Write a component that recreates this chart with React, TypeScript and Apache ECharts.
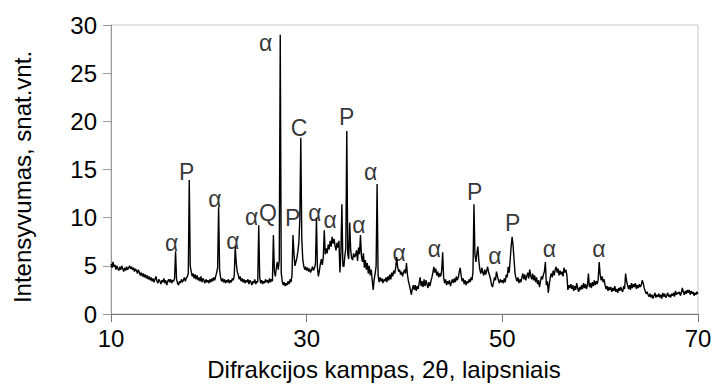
import React, { useEffect, useRef } from 'react';
import * as echarts from 'echarts';

// 2θ grid: 10.0 … 70.0 in 0.1° steps, one row of 10 readings per degree
const START_ANGLE = 10;
const STEP = 0.1;
const intensity = [
  5.2, 4.8, 5.4, 4.9, 5.1, 4.6, 5.0, 4.7, 4.5, 4.9, // 10
  4.6, 5.0, 4.7, 4.4, 4.8, 4.5, 4.9, 4.6, 4.8, 5.0, // 11
  4.7, 4.9, 4.6, 4.8, 4.4, 4.7, 4.5, 4.2, 4.6, 4.3, // 12
  4.0, 4.3, 3.9, 4.2, 3.8, 4.1, 3.7, 4.0, 3.6, 3.9, // 13
  3.5, 3.8, 3.4, 3.7, 3.3, 3.6, 3.9, 3.4, 3.2, 3.6, // 14
  3.4, 3.1, 3.5, 3.3, 3.7, 3.2, 3.5, 3.0, 3.4, 3.6, // 15
  3.3, 3.6, 3.2, 3.5, 3.4, 3.7, 6.5, 3.6, 3.2, 3.0, // 16
  3.4, 3.2, 3.6, 3.3, 3.5, 3.8, 3.4, 3.7, 3.9, 4.2, // 17
  13.9, 5.0, 4.4, 3.9, 4.2, 3.7, 4.1, 3.6, 4.0, 3.5, // 18
  3.8, 3.4, 3.9, 3.3, 3.7, 3.5, 3.2, 3.6, 3.3, 3.5, // 19
  3.2, 3.6, 3.3, 3.7, 3.4, 3.8, 3.5, 3.9, 4.3, 4.8, // 20
  11.1, 4.6, 3.8, 3.4, 3.7, 3.3, 3.6, 3.2, 3.5, 3.3, // 21
  3.6, 3.2, 3.5, 3.3, 3.7, 3.5, 4.0, 7.0, 5.3, 4.4, // 22
  4.1, 3.6, 3.9, 3.4, 3.7, 3.3, 3.6, 3.2, 3.5, 3.3, // 23
  3.6, 3.1, 3.5, 3.3, 3.0, 3.4, 3.2, 3.6, 3.1, 3.4, // 24
  3.3, 9.2, 3.8, 3.2, 3.5, 3.1, 3.4, 3.2, 3.6, 3.3, // 25
  3.5, 3.2, 3.7, 3.3, 3.6, 3.4, 8.2, 4.4, 3.9, 4.8, // 26
  5.4, 4.6, 5.6, 29.0, 4.3, 3.4, 3.0, 3.3, 2.9, 3.2, // 27
  3.0, 3.4, 3.1, 3.6, 3.3, 4.0, 8.2, 6.3, 5.0, 5.4, // 28
  5.8, 6.5, 7.4, 9.8, 18.3, 7.8, 5.7, 5.0, 4.6, 4.9, // 29
  4.5, 4.8, 4.4, 4.7, 4.3, 4.6, 4.9, 4.5, 4.8, 5.2, // 30
  10.0, 4.8, 3.9, 4.5, 5.2, 5.7, 5.1, 5.9, 8.7, 6.2, // 31
  6.8, 6.3, 7.2, 6.7, 7.6, 7.0, 8.0, 7.3, 7.8, 7.1, // 32
  6.6, 7.4, 6.9, 7.6, 4.3, 6.4, 11.4, 5.0, 4.9, 6.0, // 33
  6.8, 19.0, 6.2, 5.7, 9.5, 6.6, 5.8, 5.6, 6.3, 5.9, // 34
  6.1, 6.6, 5.5, 6.9, 6.2, 8.2, 6.0, 5.4, 6.3, 4.8, // 35
  5.6, 4.6, 5.3, 4.2, 5.0, 4.0, 4.6, 3.5, 2.5, 3.6, // 36
  4.2, 5.0, 13.5, 4.0, 3.3, 3.8, 3.4, 3.7, 3.2, 3.6, // 37
  3.4, 3.8, 3.3, 3.9, 3.5, 4.1, 3.6, 4.3, 3.9, 4.5, // 38
  4.2, 4.8, 5.9, 4.9, 4.4, 4.6, 4.1, 4.4, 3.9, 4.3, // 39
  4.6, 4.2, 5.3, 4.1, 3.4, 3.0, 2.5, 2.0, 2.6, 3.0, // 40
  2.5, 3.0, 2.4, 2.9, 2.6, 3.2, 3.8, 2.9, 3.4, 2.8, // 41
  3.6, 2.9, 3.5, 3.1, 2.7, 3.3, 2.9, 3.4, 3.8, 4.3, // 42
  4.9, 4.3, 4.7, 4.0, 4.4, 3.8, 4.2, 3.9, 4.5, 6.4, // 43
  3.8, 3.2, 3.6, 3.0, 3.4, 3.1, 3.5, 2.9, 3.3, 3.6, // 44
  3.2, 3.7, 3.3, 3.9, 3.5, 3.8, 4.4, 4.8, 3.9, 3.4, // 45
  3.7, 3.1, 3.5, 3.0, 3.4, 3.2, 3.6, 3.3, 3.8, 3.5, // 46
  4.4, 11.4, 6.2, 5.4, 6.3, 7.0, 5.5, 4.6, 4.2, 4.8, // 47
  4.3, 4.0, 4.6, 4.1, 4.5, 4.9, 4.3, 4.0, 3.6, 3.0, // 48
  2.8, 3.3, 3.8, 3.5, 4.4, 3.9, 3.5, 3.2, 3.6, 3.3, // 49
  3.5, 3.2, 3.7, 3.3, 4.1, 3.8, 4.9, 4.3, 5.6, 7.0, // 50
  8.0, 7.1, 5.6, 4.2, 3.7, 3.4, 3.8, 3.2, 3.6, 3.3, // 51
  3.8, 4.2, 3.6, 4.1, 3.5, 3.9, 4.3, 3.7, 4.6, 4.0, // 52
  3.6, 4.2, 3.5, 4.0, 3.3, 3.8, 3.1, 3.5, 2.8, 3.4, // 53
  3.9, 3.6, 4.1, 4.4, 5.4, 3.0, 3.4, 2.2, 3.1, 3.8, // 54
  4.2, 3.8, 4.5, 4.0, 4.6, 4.9, 4.3, 4.7, 4.0, 4.5, // 55
  4.1, 4.4, 3.9, 4.8, 4.3, 4.6, 4.0, 2.5, 3.0, 2.7, // 56
  3.1, 2.6, 3.0, 2.4, 2.9, 2.5, 3.2, 2.7, 2.3, 2.8, // 57
  2.5, 3.0, 2.6, 3.2, 2.7, 3.1, 2.6, 3.0, 4.2, 2.8, // 58
  3.2, 2.7, 3.3, 2.9, 3.5, 3.0, 3.4, 3.1, 3.6, 5.4, // 59
  4.1, 3.5, 3.9, 3.3, 3.6, 3.0, 2.6, 2.9, 2.4, 2.8, // 60
  2.5, 2.8, 2.3, 2.7, 2.4, 2.9, 2.3, 2.6, 2.2, 2.7, // 61
  2.4, 2.8, 2.5, 2.3, 2.9, 2.6, 4.2, 3.4, 3.0, 2.6, // 62
  3.0, 2.5, 3.2, 2.7, 3.1, 2.8, 3.2, 2.6, 3.0, 2.7, // 63
  3.1, 2.8, 3.0, 3.5, 3.2, 2.7, 2.4, 2.1, 2.3, 2.0, // 64
  1.8, 2.1, 1.7, 2.0, 1.6, 1.9, 2.2, 1.7, 2.0, 1.8, // 65
  2.1, 1.7, 2.0, 1.6, 2.2, 1.8, 2.1, 1.7, 1.9, 2.2, // 66
  1.8, 2.0, 1.7, 2.1, 1.9, 2.2, 1.8, 2.4, 2.0, 2.2, // 67
  2.1, 2.3, 1.9, 2.2, 2.7, 2.3, 2.0, 2.4, 2.1, 2.5, // 68
  2.2, 2.5, 2.0, 2.4, 2.1, 2.3, 1.9, 2.2, 2.0, 2.3, // 69
  2.1, // 70
];
const twoTheta = intensity.map((_, i) => Math.round((START_ANGLE + i * STEP) * 10) / 10);

// Phase labels placed above peaks (data coordinates of the label centre)
const peakLabels = ['α', 'P', 'α', 'α', 'α', 'Q', 'P', 'α', 'C', 'P', 'α', 'α', 'α', 'α', 'α', 'α', 'P', 'α', 'P', 'α', 'α'];
const labelX = [16.2, 17.74, 20.63, 22.47, 24.38, 26.05, 28.57, 25.81, 29.22, 34.09, 30.85, 32.39, 35.35, 36.55, 39.44, 43.05, 47.16, 49.25, 51.06, 54.8, 59.88];
const labelY = [7.37, 14.77, 11.91, 7.58, 10.1, 10.48, 9.97, 28.13, 19.31, 20.48, 10.45, 9.76, 9.24, 14.77, 6.33, 6.72, 12.66, 6.02, 9.42, 6.72, 6.72];

const xTickValues = [10, 30, 50, 70];
const yMin = 0;
const yMax = 30;
const yStep = 5;
const xTitle = 'Difrakcijos kampas, 2θ, laipsniais';
const yTitle = 'Intensyvumas, snat.vnt.';

const FONT = '"Liberation Sans", Arial, sans-serif';

export default function App() {
  const ref = useRef<HTMLDivElement>(null);
  useEffect(() => {
    if (!ref.current) return;
    const chart = echarts.init(ref.current, null, { renderer: 'svg' });
    chart.setOption({
      animation: false,
      backgroundColor: '#fff',
      textStyle: { fontFamily: FONT },
      grid: {
        left: 111,
        right: 18,
        top: 25,
        bottom: 71,
        show: true,
        borderColor: '#c8c8c8',
        borderWidth: 1,
        backgroundColor: 'transparent',
      },
      xAxis: {
        type: 'value',
        min: 10,
        max: 70,
        axisLine: { show: true, lineStyle: { color: '#777', width: 1 } },
        axisTick: { show: true, inside: false, length: 8, customValues: xTickValues, lineStyle: { color: '#777' } },
        axisLabel: { customValues: xTickValues, color: '#000', fontSize: 24, fontFamily: FONT, margin: 12 },
        splitLine: { show: false },
      },
      yAxis: {
        type: 'value',
        min: yMin,
        max: yMax,
        interval: yStep,
        axisLine: { show: true, lineStyle: { color: '#999', width: 1 } },
        axisTick: { show: true, inside: false, length: 8, lineStyle: { color: '#999' } },
        axisLabel: { color: '#000', fontSize: 24, fontFamily: FONT, margin: 14 },
        splitLine: { show: false },
      },
      series: [
        {
          type: 'line',
          data: twoTheta.map((x, i) => [x, intensity[i]]),
          showSymbol: false,
          symbol: 'none',
          lineStyle: { color: '#000', width: 1.4 },
          z: 3,
        },
        {
          type: 'scatter',
          data: labelX.map((x, i) => ({ value: [x, labelY[i]], name: peakLabels[i] })),
          symbolSize: 1,
          itemStyle: { color: 'transparent' },
          label: {
            show: true,
            position: 'inside',
            formatter: '{b}',
            color: '#000',
            fontSize: 23,
            fontFamily: FONT,
          },
          z: 4,
        },
      ],
      graphic: [
        {
          type: 'text',
          x: 384,
          y: 369,
          style: {
            text: xTitle,
            fill: '#000',
            font: `24px ${FONT}`,
            textAlign: 'center',
            textVerticalAlign: 'middle',
          },
        },
        {
          type: 'text',
          x: 22,
          y: 177,
          rotation: Math.PI / 2,
          style: {
            text: yTitle,
            fill: '#000',
            font: `24px ${FONT}`,
            textAlign: 'center',
            textVerticalAlign: 'middle',
          },
        },
      ],
    });
    return () => chart.dispose();
  }, []);
  return <div ref={ref} style={{ position: 'fixed', left: 0, top: 0, width: 716, height: 385 }} />;
}
